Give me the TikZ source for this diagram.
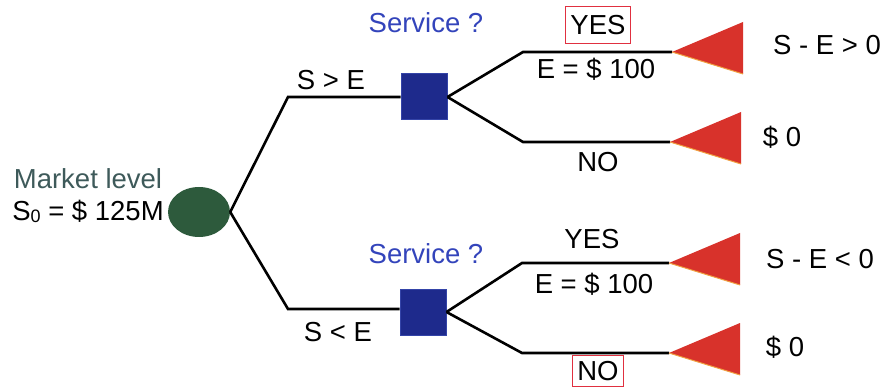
\documentclass[tikz,border=0pt]{standalone}
\usepackage{fontspec}
\setmainfont{Liberation Sans}
\usetikzlibrary{shapes.geometric}
\definecolor{leafred}{HTML}{D8322B}
\definecolor{leafedge}{HTML}{F0A040}
\definecolor{navy}{HTML}{1E2A8C}
\definecolor{navyedge}{HTML}{3444A8}
\definecolor{chgreen}{HTML}{2D5A3C}
\definecolor{svcblue}{HTML}{3344BB}
\definecolor{mktgray}{HTML}{3E5A5A}
\definecolor{boxred}{HTML}{E03040}
\begin{document}
\begin{tikzpicture}[x=1pt,y=-1pt,
  txt/.style={inner sep=0pt, font=\fontsize{27.5}{32}\selectfont},
  branch/.style={line width=2.6pt, line join=miter},
  decision/.style={draw=navyedge, fill=navy, line width=1pt, minimum size=46pt, inner sep=0pt},
  chance/.style={ellipse, fill=chgreen, minimum width=62pt, minimum height=50pt, inner sep=0pt},
  leaf/.style={fill=leafred},
  leafbottom/.style={draw=leafedge, line width=1pt},
  redbox/.style={draw=boxred, line width=1pt}
]
\useasboundingbox (0,0) rectangle (886,390);
% root
\node[chance] (root) at (199,212) {};
\node[txt, text=mktgray] (mkt) at (88,179) {Market level};
\node[txt] (s0) at (88,211) {S\raisebox{-2pt}{\fontsize{18}{20}\selectfont 0} = \$ 125M};
% decision nodes
\node[decision] (d1) at (424,97) {};
\node[decision] (d2) at (423,312) {};
% corner coordinates
\coordinate (c1) at (288,97);
\coordinate (c2) at (288,309);
\coordinate (u1) at (523,52);
\coordinate (u2) at (523,142);
\coordinate (l1) at (522,263);
\coordinate (l2) at (522,353);
% leaf tips
\coordinate (t1) at (672,52);
\coordinate (t2) at (670,142);
\coordinate (t3) at (669,263);
\coordinate (t4) at (669,353);
% branches
\draw[branch] (root.east) -- (c1) -- (d1.west);
\draw[branch] (root.east) -- (c2) -- (d2.west |- c2);
\draw[branch] (d1.east) -- (u1) -- (t1);
\draw[branch] (d1.east) -- (u2) -- (t2);
\draw[branch] (d2.east) -- (l1) -- (t3);
\draw[branch] (d2.east) -- (l2) -- (t4);
% leaves
\foreach \t in {t1,t2,t3,t4}{
  \fill[leaf] (\t) -- ++(71,-30) -- ++(0,52) -- cycle;
  \draw[leafbottom] (\t) -- ++(71,22);
}
% labels
\node[txt] (sgt) at (331,80) {S > E};
\node[txt] (slt) at (338,332) {S < E};
\node[txt, text=svcblue] (svc1) at (426,23) {Service ?};
\node[txt, text=svcblue] (svc2) at (426,254) {Service ?};
\node[txt, redbox, inner xsep=5pt, inner ysep=9pt] (yes1) at (598,25) {YES};
\node[txt] (e1) at (596,69) {E = \$ 100};
\node[txt] (no1) at (598,162) {NO};
\node[txt] (yes2) at (592,239) {YES};
\node[txt] (e2) at (594,284) {E = \$ 100};
\node[txt, redbox, inner xsep=5pt, inner ysep=6pt] (no2) at (598,371) {NO};
\node[txt] (p1) at (827,45) {S - E > 0};
\node[txt] (p2) at (782,137) {\$ 0};
\node[txt] (p3) at (820,259) {S - E < 0};
\node[txt] (p4) at (785,347) {\$ 0};
\end{tikzpicture}
\end{document}
